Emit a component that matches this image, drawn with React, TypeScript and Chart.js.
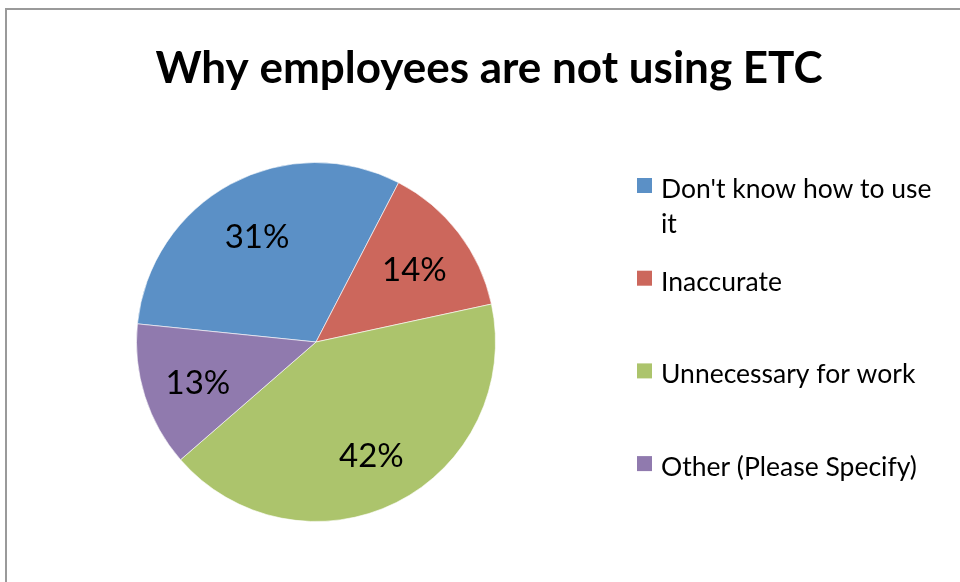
import React, { useEffect, useRef } from "react";
import { Chart, registerables } from "chart.js";

Chart.register(...registerables);

const chartTitle = "Why employees are not using ETC";
const categories = [
  "Don't know how to use it",
  "Inaccurate",
  "Unnecessary for work",
  "Other (Please Specify)",
];
const seriesValues = [31, 14, 42, 13];
const sliceColors = ["#5B90C6", "#CC675C", "#ACC46C", "#907AAE"];

const FONT = "Lato, 'Open Sans', 'DejaVu Sans', sans-serif";

function wrapText(ctx: CanvasRenderingContext2D, text: string, maxWidth: number): string[] {
  const words = text.split(" ");
  const lines: string[] = [];
  let cur = "";
  for (const w of words) {
    const test = cur ? cur + " " + w : w;
    if (ctx.measureText(test).width > maxWidth && cur) {
      lines.push(cur);
      cur = w;
    } else {
      cur = test;
    }
  }
  if (cur) lines.push(cur);
  return lines;
}

const decorPlugin = {
  id: "decor",
  afterDraw(chart: any) {
    const ctx: CanvasRenderingContext2D = chart.ctx;
    ctx.save();
    // frame
    ctx.strokeStyle = "#9a9a9a";
    ctx.lineWidth = 2;
    ctx.beginPath();
    ctx.moveTo(6, 590);
    ctx.lineTo(6, 9);
    ctx.lineTo(970, 9);
    ctx.stroke();

    // title
    ctx.fillStyle = "#000";
    ctx.font = `bold 44px ${FONT}`;
    ctx.textAlign = "center";
    ctx.textBaseline = "alphabetic";
    ctx.fillText(chartTitle, 489, 83);

    // data labels
    const meta = chart.getDatasetMeta(0);
    const data: number[] = chart.data.datasets[0].data;
    const total = data.reduce((a, b) => a + b, 0);
    ctx.font = `33px ${FONT}`;
    ctx.textAlign = "center";
    ctx.textBaseline = "middle";
    meta.data.forEach((arc: any, i: number) => {
      const p = arc.getProps(["x", "y", "startAngle", "endAngle", "outerRadius"], true);
      const mid = (p.startAngle + p.endAngle) / 2;
      const r = p.outerRadius * 0.69;
      const pct = Math.round((data[i] / total) * 100) + "%";
      ctx.fillText(pct, p.x + Math.cos(mid) * r, p.y + Math.sin(mid) * r + 4);
    });

    // legend
    ctx.font = `26.5px ${FONT}`;
    ctx.textAlign = "left";
    ctx.textBaseline = "alphabetic";
    const labels: string[] = chart.data.labels;
    const colors: string[] = chart.data.datasets[0].backgroundColor;
    labels.forEach((lab, i) => {
      const base = 198 + i * 92.7;
      ctx.fillStyle = colors[i];
      ctx.fillRect(637, base - 20, 15, 15);
      ctx.fillStyle = "#000";
      const lines = wrapText(ctx, lab, 285);
      lines.forEach((ln, j) => ctx.fillText(ln, 661, base + j * 35));
    });
    ctx.restore();
  },
};

export default function App() {
  const ref = useRef<HTMLCanvasElement>(null);
  useEffect(() => {
    if (!ref.current) return;
    const chart = new Chart(ref.current, {
      type: "pie",
      data: {
        labels: categories,
        datasets: [
          {
            data: seriesValues,
            backgroundColor: sliceColors,
            borderColor: "rgba(255,255,255,0.6)",
            borderWidth: 1,
          },
        ],
      },
      options: {
        responsive: false,
        animation: false,
        rotation: -84.2,
        layout: { padding: { left: 136, right: 464, top: 162, bottom: 60 } },
        plugins: {
          legend: { display: false },
          title: { display: false },
          tooltip: { enabled: false },
        },
      },
      plugins: [decorPlugin],
    });
    return () => chart.destroy();
  }, []);
  return (
    <div style={{ position: "fixed", left: 0, top: 0, width: 960, height: 582, background: "#fff" }}>
      <canvas ref={ref} width={960} height={582} style={{ width: 960, height: 582, display: "block" }} />
    </div>
  );
}
